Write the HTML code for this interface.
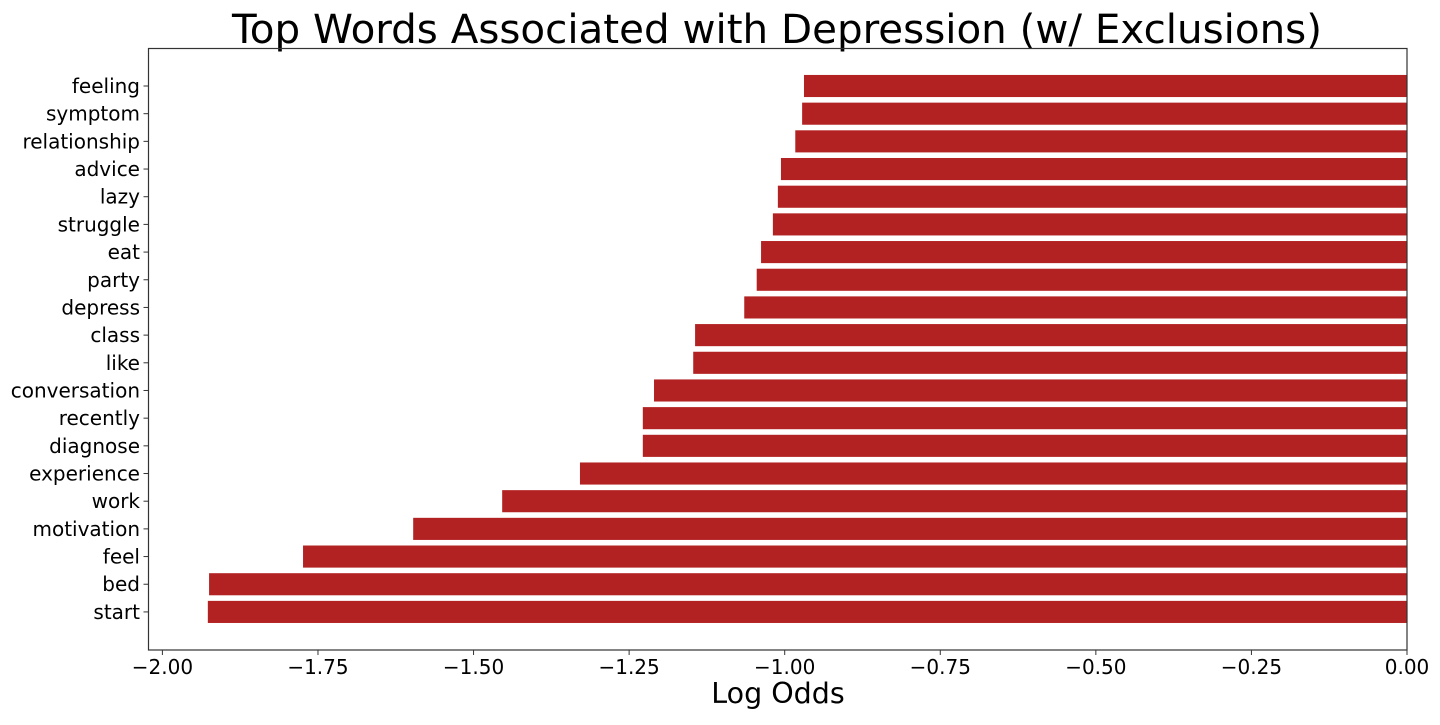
<!DOCTYPE html>
<html><head><meta charset="utf-8"><style>
body{margin:0;background:#fff;font-family:"Liberation Sans","DejaVu Sans",sans-serif}
</style></head><body>
<svg id="chart" width="1440" height="720" xmlns="http://www.w3.org/2000/svg" font-family="DejaVu Sans, Liberation Sans, sans-serif">
<text x="777" y="43" font-size="40.4" text-anchor="middle">Top Words Associated with Depression (w/ Exclusions)</text>
<g id="bars"></g><g id="yaxis"></g><g id="xaxis"></g>
<rect x="148.5" y="48.5" width="1258.5" height="601.5" fill="none" stroke="#333" stroke-width="1.2"/>
<text x="778" y="703" font-size="28.5" text-anchor="middle">Log Odds</text>
</svg>
<script>
const categories=["feeling","symptom","relationship","advice","lazy","struggle","eat","party","depress","class","like","conversation","recently","diagnose","experience","work","motivation","feel","bed","start"];
const values=[-0.969,-0.972,-0.983,-1.006,-1.011,-1.019,-1.038,-1.045,-1.065,-1.144,-1.147,-1.210,-1.228,-1.228,-1.329,-1.454,-1.597,-1.774,-1.925,-1.927];
const xTicks=[-2.0,-1.75,-1.5,-1.25,-1.0,-0.75,-0.5,-0.25,0.0];
const xTickLabels=["\u22122.00","\u22121.75","\u22121.50","\u22121.25","\u22121.00","\u22120.75","\u22120.50","\u22120.25","0.00"];
const NS="http://www.w3.org/2000/svg";
const x0=1407,unit=622.3;
const xs=v=>x0+v*unit;
const top0=86,step=27.68,bh=22.1;
const ys=i=>top0+i*step;
const bars=document.getElementById('bars'),ya=document.getElementById('yaxis'),xa=document.getElementById('xaxis');
function mk(t,a){const e=document.createElementNS(NS,t);for(const k in a)e.setAttribute(k,a[k]);return e;}
categories.forEach((c,i)=>{
  const v=values[i];const xl=Math.min(xs(v),xs(0));
  const r=mk('rect',{x:xl,y:ys(i)-bh/2,width:Math.abs(xs(v)-xs(0)),height:bh,fill:'#b22222'});
  
  
  bars.appendChild(r);
  const tk=mk('line',{x1:143.5,x2:148.5,y1:ys(i),y2:ys(i),stroke:'#333','stroke-width':1});
  
  
  ya.appendChild(tk);
  const t=mk('text',{x:140,y:ys(i)+7,'font-size':20,'text-anchor':'end'});
  
  
  t.textContent=c;ya.appendChild(t);
});
xTicks.forEach((v,i)=>{
  const tk=mk('line',{x1:xs(v),x2:xs(v),y1:650,y2:655,stroke:'#333','stroke-width':1});
  
  
  xa.appendChild(tk);
  const t=mk('text',{x:xs(v),y:674,'font-size':20,'text-anchor':'middle'});
  
  
  t.textContent=xTickLabels[i];xa.appendChild(t);
});
</script>
</body></html>
